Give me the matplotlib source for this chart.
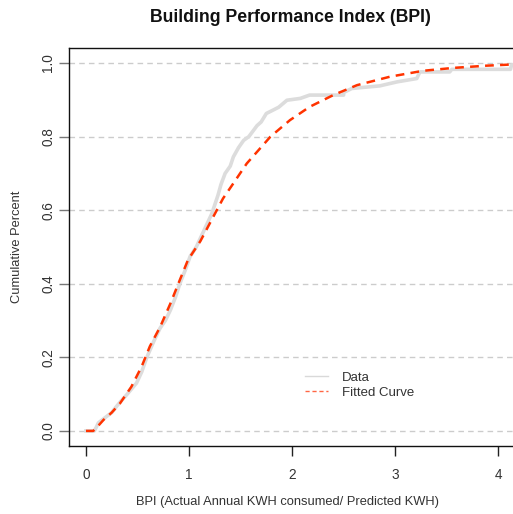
import matplotlib
matplotlib.use("Agg")
import matplotlib.pyplot as plt
from matplotlib.lines import Line2D

plt.rcParams['font.family'] = ['Liberation Sans', 'DejaVu Sans']

data_x = [0.00, 0.08, 0.10, 0.12, 0.18, 0.25, 0.30, 0.33, 0.40, 0.49, 0.54, 0.59,
          0.66, 0.72, 0.77, 0.82, 0.87, 0.91, 0.96, 1.01, 1.07, 1.12, 1.17, 1.22,
          1.25, 1.28, 1.31, 1.35, 1.40, 1.43, 1.48, 1.53, 1.58, 1.62, 1.66, 1.70,
          1.75, 1.80, 1.87, 1.95, 2.08, 2.17, 2.50, 2.50, 2.58, 2.85, 3.02, 3.21,
          3.24, 3.53, 3.55, 4.12, 4.13, 4.30]
data_y = [0.000, 0.000, 0.010, 0.022, 0.035, 0.050, 0.068, 0.078, 0.100, 0.130,
          0.160, 0.200, 0.245, 0.280, 0.300, 0.329, 0.365, 0.400, 0.435, 0.474,
          0.500, 0.530, 0.560, 0.590, 0.615, 0.640, 0.670, 0.700, 0.720, 0.745,
          0.770, 0.790, 0.800, 0.815, 0.830, 0.840, 0.863, 0.870, 0.880, 0.899,
          0.904, 0.913, 0.913, 0.920, 0.931, 0.938, 0.949, 0.958, 0.976, 0.976,
          0.983, 0.983, 0.995, 0.995]

# fitted curve
fit_x = [0.00, 0.07, 0.10, 0.17, 0.25, 0.33, 0.44, 0.54, 0.62, 0.72, 0.82, 0.91,
         0.99, 1.11, 1.25, 1.33, 1.43, 1.56, 1.79, 1.98, 2.17, 2.40, 2.63, 2.95,
         3.27, 3.57, 3.89, 4.12, 4.30]
fit_y = [0.000, 0.000, 0.008, 0.030, 0.050, 0.075, 0.120, 0.175, 0.230, 0.283,
         0.347, 0.410, 0.465, 0.516, 0.590, 0.632, 0.673, 0.727, 0.800, 0.845,
         0.881, 0.913, 0.940, 0.963, 0.979, 0.987, 0.993, 0.996, 0.997]

x_ticks = [0, 1, 2, 3, 4]
y_ticks = [0.0, 0.2, 0.4, 0.6, 0.8, 1.0]
txt = '#333333'

fig = plt.figure(figsize=(5.13, 5.14), dpi=100)
ax = fig.add_axes([69 / 513, 68 / 514, (526 - 69) / 513, (446 - 48) / 514])

for yv in y_ticks:
    ax.axhline(yv, color='#cccccc', lw=1, ls=(0, (4, 3)), zorder=1)

ax.plot(data_x, data_y, color='#dcdcdc', lw=2.6, zorder=2)
ax.plot(fit_x, fit_y, color='#ff3300', lw=1.8, ls=(0, (3.5, 2.5)), zorder=3)

ax.set_xlim(-0.165, 4.27)
ax.set_ylim(-0.041, 1.041)
ax.set_xticks(x_ticks)
ax.set_xticklabels([str(v) for v in x_ticks])
ax.set_yticks(y_ticks)
ax.set_yticklabels(['%.1f' % v for v in y_ticks], rotation=90, va='center')
ax.tick_params(axis='x', length=7, width=1, color='#222222', labelcolor=txt,
               labelsize=9.8, pad=9)
ax.tick_params(axis='y', length=7, width=1, color='#777777', labelcolor=txt,
               labelsize=9.8, pad=3)
for s in ax.spines.values():
    s.set_color('#111111')
    s.set_linewidth(1)

fig.text(290 / 513, 1 - 17 / 514, 'Building Performance Index (BPI)',
         ha='center', va='center', fontsize=12.7, fontweight='bold', color='#111111')
fig.text(288 / 513, 1 - 502 / 514, 'BPI (Actual Annual KWH consumed/ Predicted KWH)',
         ha='center', va='center', fontsize=9.3, color=txt)
fig.text(17 / 513, 1 - 247 / 514, 'Cumulative Percent', rotation=90,
         ha='center', va='center', fontsize=9.3, color=txt)

handles = [Line2D([], [], color='#d9d9d9', lw=1),
           Line2D([], [], color='#ff6644', lw=1, ls=(0, (3, 2)))]
ax.legend(handles, ['Data', 'Fitted Curve'], loc='upper left',
          bbox_to_anchor=(298 / 513, 1 - 365 / 514), bbox_transform=fig.transFigure,
          frameon=False, fontsize=9.5, handlelength=1.8, handletextpad=1.0,
          labelspacing=0.2, borderpad=0, labelcolor=txt)

fig.savefig('out.png', dpi=100)
